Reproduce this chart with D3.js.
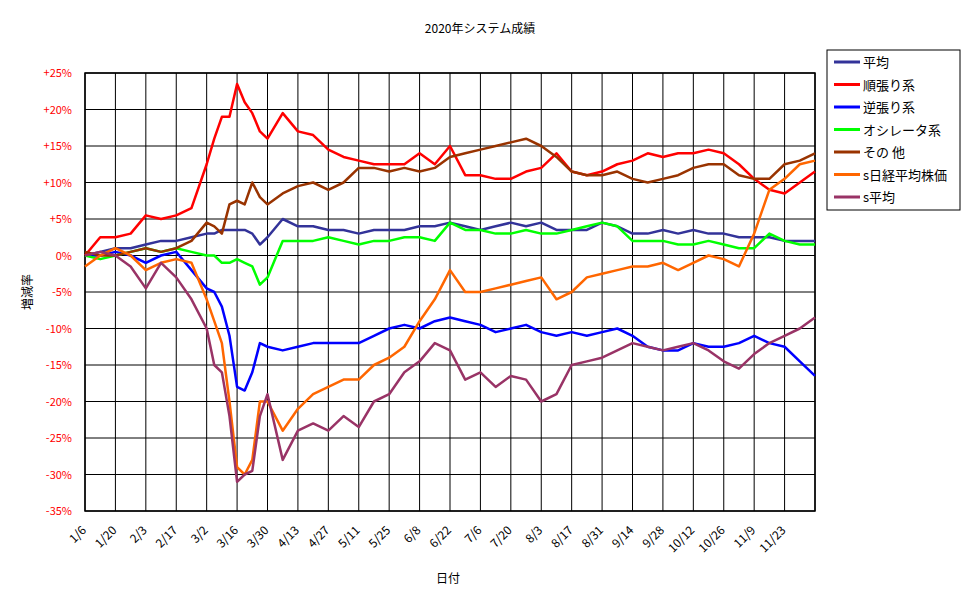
<!DOCTYPE html><html><head><meta charset="utf-8"><script src="https://d3js.org/d3.v7.min.js"></script>
<style>body{margin:0;background:#fff}text{font-family:"Noto Sans CJK JP","DejaVu Sans",sans-serif}</style></head><body>
<svg id="c" width="970" height="604"></svg>
<script>
const tickLabels=["1/6","1/20","2/3","2/17","3/2","3/16","3/30","4/13","4/27","5/11","5/25","6/8","6/22","7/6","7/20","8/3","8/17","8/31","9/14","9/28","10/12","10/26","11/9","11/23"];
const seriesNames=["平均","順張り系","逆張り系","オシレータ系","その 他","s日経平均株価","s平均"];
const colors=["#333399","#ff0000","#0000ff","#00ff00","#993300","#ff6600","#993366"];
const t=[0,0.5,1,1.5,2,2.5,3,3.5,4,4.25,4.5,4.75,5,5.25,5.5,5.75,6,6.5,7,7.5,8,8.5,9,9.5,10,10.5,11,11.5,12,12.5,13,13.5,14,14.5,15,15.5,16,16.5,17,17.5,18,18.5,19,19.5,20,20.5,21,21.5,22,22.5,23,23.5,24];
const avg=[0,0.5,1,1,1.5,2,2,2.5,3,3,3.5,3.5,3.5,3.5,3,1.5,2.5,5,4,4,3.5,3.5,3,3.5,3.5,3.5,4,4,4.5,4,3.5,4,4.5,4,4.5,3.5,3.5,3.5,4.5,4,3,3,3.5,3,3.5,3,3,2.5,2.5,2.5,2,2,2];
const trend=[0,2.5,2.5,3,5.5,5,5.5,6.5,12.5,16,19,19,23.5,21,19.5,17,16,19.5,17,16.5,14.5,13.5,13,12.5,12.5,12.5,14,12.5,15,11,11,10.5,10.5,11.5,12,14,11.5,11,11.5,12.5,13,14,13.5,14,14,14.5,14,12.5,10.5,9,8.5,10,11.5];
const contra=[0,0,0.5,0,-1,0,0.5,-2,-4.5,-5,-7,-11,-18,-18.5,-16,-12,-12.5,-13,-12.5,-12,-12,-12,-12,-11,-10,-9.5,-10,-9,-8.5,-9,-9.5,-10.5,-10,-9.5,-10.5,-11,-10.5,-11,-10.5,-10,-11,-12.5,-13,-13,-12,-12.5,-12.5,-12,-11,-12,-12.5,-14.5,-16.5];
const osc=[0,-0.5,0,0.5,1,0.5,1,0.5,0,0,-1,-1,-0.5,-1,-1.5,-4,-3,2,2,2,2.5,2,1.5,2,2,2.5,2.5,2,4.5,3.5,3.5,3,3,3.5,3,3,3.5,4,4.5,4,2,2,2,1.5,1.5,2,1.5,1,1,3,2,1.5,1.5];
const other=[0.5,0,0,0.5,1,0.5,1,2,4.5,4,3,7,7.5,7,10,8,7,8.5,9.5,10,9,10,12,12,11.5,12,11.5,12,13.5,14,14.5,15,15.5,16,15,13.5,11.5,11,11,11.5,10.5,10,10.5,11,12,12.5,12.5,11,10.5,10.5,12.5,13,14];
const nikkei=[-1.5,0,1,0,-2,-1,-0.5,-1,-6,-9,-12,-20,-29,-30,-28,-20,-20,-24,-21,-19,-18,-17,-17,-15,-14,-12.5,-9,-6,-2,-5,-5,-4.5,-4,-3.5,-3,-6,-5,-3,-2.5,-2,-1.5,-1.5,-1,-2,-1,0,-0.5,-1.5,3,9,10.5,12.5,13];
const savg=[0,0.5,0,-1.5,-4.5,-1,-3,-6,-10,-15,-16,-22,-31,-30,-29.5,-22,-19,-28,-24,-23,-24,-22,-23.5,-20,-19,-16,-14.5,-12,-13,-17,-16,-18,-16.5,-17,-20,-19,-15,-14.5,-14,-13,-12,-12.5,-13,-12.5,-12,-13,-14.5,-15.5,-13.5,-12,-11,-10,-8.5];
const series=[avg,trend,contra,osc,other,nikkei,savg];
const yTicks=[25,20,15,10,5,0,-5,-10,-15,-20,-25,-30,-35];

const svg=d3.select("#c");
const L=85,R=815,T=73,B=511;
const x=d3.scaleLinear().domain([0,24]).range([L,R]);
const y=d3.scaleLinear().domain([-35,25]).range([B,T]);
const g=svg.append("g");
g.selectAll(".h").data(yTicks).join("line").attr("x1",L).attr("x2",R).attr("y1",d=>y(d)).attr("y2",d=>y(d)).attr("stroke","#000").attr("stroke-width",1);
g.selectAll(".v").data(d3.range(0,25)).join("line").attr("x1",d=>x(d)).attr("x2",d=>x(d)).attr("y1",T).attr("y2",B).attr("stroke","#000").attr("stroke-width",1);
g.append("rect").attr("x",L).attr("y",T).attr("width",R-L).attr("height",B-T).attr("fill","none").attr("stroke","#000").attr("stroke-width",1.5);
svg.selectAll(".yl").data(yTicks).join("text").attr("x",L-13).attr("y",d=>y(d)+4).attr("text-anchor","end").attr("font-size",11).attr("fill","#ff0000").text(d=>(d>0?"+":"")+d+"%");
svg.selectAll(".xl").data(tickLabels).join("text").attr("transform",(d,i)=>`translate(${x(i)+2},${B+20}) rotate(-45)`).attr("text-anchor","end").attr("font-size",12).text(d=>d);
const line=d3.line().x((d,i)=>x(t[i])).y(d=>y(d));
series.forEach((s,k)=>svg.append("path").attr("d",line(s)).attr("fill","none").attr("stroke",colors[k]).attr("stroke-width",2.5).attr("stroke-linejoin","round"));
svg.append("text").attr("x",480).attr("y",33).attr("text-anchor","middle").attr("font-size",12).text("2020年システム成績");
svg.append("text").attr("x",448).attr("y",583).attr("text-anchor","middle").attr("font-size",12).text("日付");
svg.append("text").attr("transform","translate(32,292) rotate(-90)").attr("text-anchor","middle").attr("font-size",12).text("増減率");
const lg=svg.append("g").attr("transform","translate(827,50)");
lg.append("rect").attr("width",133).attr("height",160).attr("fill","#fff").attr("stroke","#000");
seriesNames.forEach((n,k)=>{const yy=12+k*22.5;
lg.append("line").attr("x1",7).attr("x2",33).attr("y1",yy).attr("y2",yy).attr("stroke",colors[k]).attr("stroke-width",3);
lg.append("text").attr("x",36).attr("y",yy+5).attr("font-size",13).text(n);});
</script></body></html>
